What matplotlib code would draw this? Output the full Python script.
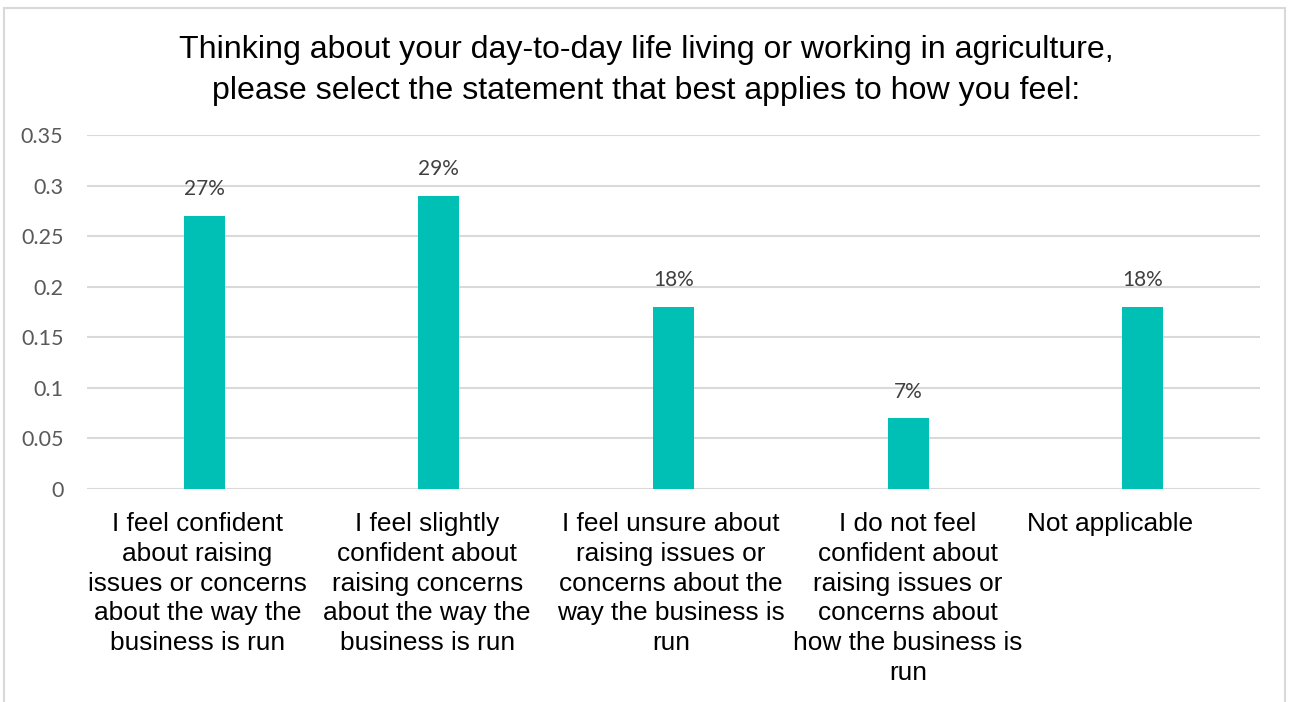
import matplotlib.pyplot as plt
from matplotlib.patches import Rectangle
from matplotlib.ticker import FuncFormatter, MultipleLocator

categories = [
    "I feel confident\nabout raising\nissues or concerns\nabout the way the\nbusiness is run",
    "I feel slightly\nconfident about\nraising concerns\nabout the way the\nbusiness is run",
    "I feel unsure about\nraising issues or\nconcerns about the\nway the business is\nrun",
    "I do not feel\nconfident about\nraising issues or\nconcerns about\nhow the business is\nrun",
    "Not applicable",
]
shares = [0.27, 0.29, 0.18, 0.07, 0.18]
title = ("Thinking about your day-to-day life living or working in agriculture,\n"
         "please select the statement that best applies to how you feel:")

BAR_COLOR = "#00BFB5"
GRID_COLOR = "#D9D9D9"
LABEL_FONT = ["Lato", "DejaVu Sans"]
TEXT_FONT = ["Liberation Sans", "DejaVu Sans"]

fig = plt.figure(figsize=(12.89, 7.02), dpi=100)
ax = fig.add_axes([87 / 1289, 1 - 489 / 702, (1260 - 87) / 1289, (489 - 135) / 702])

x = list(range(len(categories)))
bars = ax.bar(x, shares, width=0.175, color=BAR_COLOR, zorder=3)

for rect, v in zip(bars, shares):
    ax.annotate(f"{v:.0%}", (rect.get_x() + rect.get_width() / 2, v),
                xytext=(0, 12), textcoords="offset points",
                ha="center", va="bottom", fontsize=15, color="#404040",
                family=LABEL_FONT)

ax.set_xlim(-0.5, len(categories) - 0.5)
ax.set_ylim(0, 0.35)
ax.yaxis.set_major_locator(MultipleLocator(0.05))
ax.yaxis.set_major_formatter(FuncFormatter(lambda v, _: f"{round(v, 2):g}"))
ax.grid(axis="y", color=GRID_COLOR, linewidth=1.5, zorder=0)
for s in ax.spines.values():
    s.set_visible(False)
ax.tick_params(length=0)
ax.tick_params(axis="y", pad=17, labelsize=15.5, labelcolor="#595959")
for lab in ax.get_yticklabels():
    lab.set_family(LABEL_FONT)

ax.set_xticks(x)
ax.set_xticklabels([])
# category text, nudged like the source layout for the single-line label
nudges = [-0.03, -0.05, -0.01, 0.0, -0.14]
for xi, cat, dx in zip(x, categories, nudges):
    ax.text(xi + dx, -0.023, cat, ha="center", va="top", fontsize=18.9,
            family=TEXT_FONT, color="black", linespacing=1.30)

fig.text(0.5016, 1 - 70.5 / 702, title, ha="center", va="center",
         fontsize=23.1, family=TEXT_FONT, color="black", linespacing=1.47)

# chart area border
fig.patches.append(Rectangle((4 / 1289, -0.05), (1285 - 4) / 1289, 0.05 + (694) / 702,
                             transform=fig.transFigure, fill=False,
                             edgecolor=GRID_COLOR, linewidth=1.5))

fig.savefig("out.png", dpi=100)
